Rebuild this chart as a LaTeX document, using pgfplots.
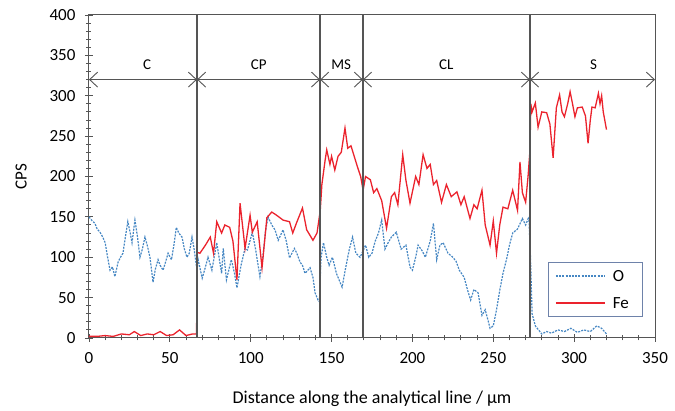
\documentclass[border=0pt]{standalone}
\usepackage{pgfplots}
\pgfplotsset{compat=1.18}
\usepackage{fontspec}
\setmainfont{Carlito}
\usetikzlibrary{arrows.meta}
\definecolor{oblue}{RGB}{70,135,195}
\definecolor{fered}{RGB}{235,35,45}
\definecolor{axgrey}{RGB}{85,85,85}
\definecolor{legframe}{RGB}{110,130,170}
\begin{document}
\begin{tikzpicture}
\begin{axis}[
  scale only axis, width=566pt, height=323pt,
  xmin=0, xmax=350, ymin=0, ymax=400,
  xtick={0,50,...,350}, ytick={0,50,...,400},
  minor tick num=4,
  tick align=center,
  xtick pos=left, ytick pos=left,
  major tick length=8pt, minor tick length=5pt,
  every tick/.style={axgrey, line width=0.9pt},
  axis line style={axgrey, line width=1pt},
  font=\fontsize{17}{20}\selectfont,
  /pgf/number format/assume math mode=true,
  xticklabel style={yshift=-7pt},
  yticklabel style={xshift=-6pt},
  xlabel={Distance along the analytical line / µm},
  ylabel={CPS},
  xlabel style={font=\fontsize{18}{21}\selectfont, yshift=-20pt},
  ylabel style={yshift=16pt},
  clip=false,
]
\addplot[oblue, line width=1.2pt, dash pattern=on 2pt off 1.2pt] coordinates {
(0,150) (2,145) (3.7,142) (5,135) (6.8,131) (8.5,125) (10,118) (11.5,100) (13,84) (14.5,88) (16,76) (18,94) (19.5,100) (21,105) (22.5,125) (24,144) (25.5,130) (26.6,118) (28.4,146) (30,125) (31.5,100) (33,110) (34.6,125) (36,115) (37.7,100) (39.6,69) (41,85) (42.7,97) (44,90) (45.8,84) (47.5,95) (48.9,105) (51,97) (52.5,115) (54,137) (55.5,130) (57.5,125) (59,110) (60.6,100) (62,105) (63.7,125) (65,110) (66.8,84) (67.5,97) (70,74) (72,88) (73.6,100) (76,84) (79,118) (82,80) (83,111) (85,72) (88,97) (90,80) (91.5,62) (94,90) (96.5,111) (98,109) (101,131) (103,110) (105.7,76) (107.5,100) (109,130) (110.7,150) (113,140) (115,134) (117,121) (120,134) (122,120) (124,99) (127,111) (128.5,105) (130.5,94) (132,90) (133.6,80) (136.7,87) (138.5,75) (139.8,56) (141.6,47) (142.5,45) (143.5,100) (145,118) (147,100) (148.5,90) (150.5,100) (153,80) (156.5,63) (159,90) (161,110) (163,125) (165,105) (167.6,100) (169.5,108) (171,115) (173,100) (175,105) (177,120) (179,130) (181,146) (183,110) (185,118) (187,125) (190,131) (193,110) (196,115) (198.5,88) (200,84) (202,100) (203.5,115) (206,108) (208,100) (211,120) (213,142) (215,97) (217,115) (219,118) (222,105) (225,100) (227,95) (229,84) (232,75) (234,60) (236,47) (238,60) (240.6,56) (243,28) (245,35) (247,20) (248,12) (250,15) (252,35) (254,59) (256,80) (258.5,100) (260,115) (262,130) (265,135) (268,148) (270,140) (272,150) (273,100) (274,30) (276,15) (278,10) (280,5) (283,8) (286,6) (290,10) (294,8) (298,12) (302,7) (306,10) (310,8) (314,15) (317,12) (320,5)
};
\addplot[fered, line width=1.3pt] coordinates {
(0,2) (5,2) (10,3) (15,2) (20,5) (25,4) (28,8) (32,3) (36,5) (40,4) (44,8) (48,3) (52,4) (56,10) (60,3) (64,5) (66.5,5) (67,106) (68.6,105) (72,115) (75,125) (77,105) (79,144) (82,130) (84,140) (87,137) (89,120) (91.5,72) (93.4,167) (96.5,111) (99.6,152) (101,131) (104,144) (107,87) (110,149) (113,156) (116,152) (120,146) (124,144) (126,130) (128.6,144) (132,161) (134.6,134) (138.5,121) (141,130) (143,158) (144,190) (146,220) (147,233) (149,215) (150,225) (152,208) (154,225) (156,230) (158.3,260) (160,235) (162,238) (164,225) (166,212) (168,200) (169.5,183) (171,200) (174,196) (176,180) (178,185) (181,170) (184,136) (187,175) (189,180) (191,165) (194,227) (196,195) (198.5,167) (202,200) (204,190) (206.6,227) (209,210) (211,215) (213,190) (215,195) (218,168) (221,190) (224,175) (227.5,181) (230,165) (232,175) (235.6,148) (238,165) (240,160) (243,183) (245,140) (248,115) (250,145) (252,105) (254,140) (256,162) (259,160) (262,183) (265,158) (266.5,218) (268,180) (270,168) (271.5,200) (272.7,233) (273.2,290) (274,280) (276,291) (277.7,261) (280,280) (283,279) (285,265) (287,223) (289,285) (291,301) (292.5,280) (294,274) (296,290) (297.5,305) (299,290) (300.5,274) (302,285) (305,286) (307,275) (308.6,241) (310,270) (311,286) (313,285) (315,303) (316,290) (317,300) (318,280) (320,258)
};
% region boundaries
\foreach \b in {66.8,142.9,169.4,272.7} {
  \edef\tmp{\noexpand\draw[axgrey, line width=1.3pt] (axis cs:\b,0) -- (axis cs:\b,400);}\tmp
}
\foreach \a/\b in {0/66.8,66.8/142.9,142.9/169.4,169.4/272.7,272.7/350} {
  \edef\tmp{\noexpand\draw[axgrey, line width=0.9pt, {Straight Barb[length=8pt,width=15pt]}-{Straight Barb[length=8pt,width=15pt]}] (axis cs:\a,320) -- (axis cs:\b,320);}\tmp
}
\node[font=\fontsize{15}{18}\selectfont] at (axis cs:36,338) {C};
\node[font=\fontsize{15}{18}\selectfont] at (axis cs:105,338) {CP};
\node[font=\fontsize{15}{18}\selectfont] at (axis cs:156,338) {MS};
\node[font=\fontsize{15}{18}\selectfont] at (axis cs:221,338) {CL};
\node[font=\fontsize{15}{18}\selectfont] at (axis cs:312,338) {S};
% legend
\draw[legframe, line width=0.9pt, fill=white] (rel axis cs:0.811,0.068) rectangle (rel axis cs:0.977,0.235);
\draw[oblue, line width=1.2pt, dash pattern=on 2pt off 1.2pt] (rel axis cs:0.825,0.192) -- (rel axis cs:0.912,0.192);
\draw[fered, line width=1.3pt] (rel axis cs:0.825,0.108) -- (rel axis cs:0.912,0.108);
\node[anchor=west, inner sep=0pt] at (rel axis cs:0.925,0.192) {O};
\node[anchor=west, inner sep=0pt] at (rel axis cs:0.925,0.108) {Fe};
\end{axis}
\pgfresetboundingbox
\path[use as bounding box] ([xshift=-89pt,yshift=-73pt]current axis.south west) rectangle ([xshift=20pt,yshift=15pt]current axis.north east);
\end{tikzpicture}
\end{document}
